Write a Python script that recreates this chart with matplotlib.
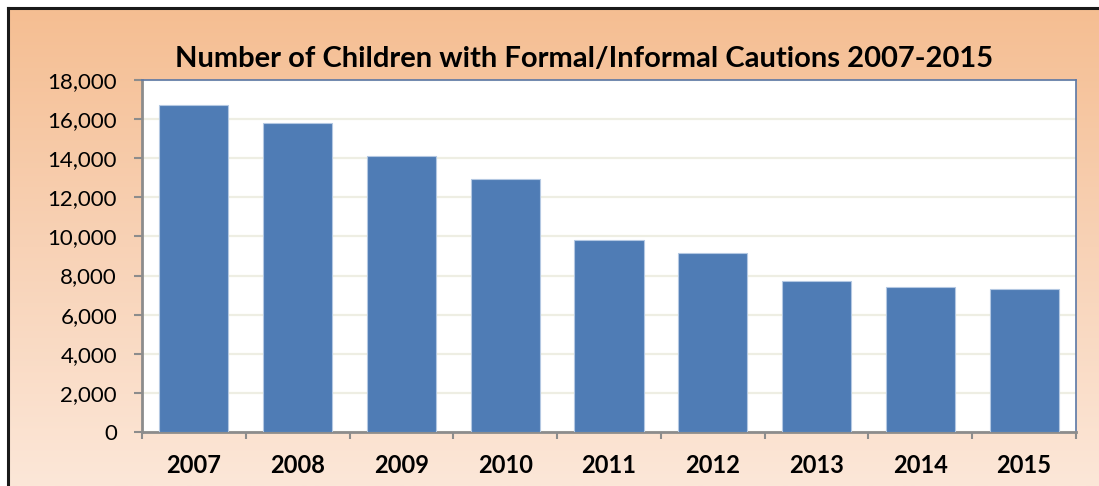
import numpy as np
import matplotlib
matplotlib.use("Agg")
import matplotlib.pyplot as plt
from matplotlib.colors import LinearSegmentedColormap
from matplotlib.ticker import FuncFormatter, FixedLocator

years = ["2007", "2008", "2009", "2010", "2011", "2012", "2013", "2014", "2015"]
cautions = [16730, 15810, 14100, 12950, 9800, 9170, 7730, 7440, 7330]
y_ticks = list(range(0, 18001, 2000))

plt.rcParams["font.family"] = ["Lato", "DejaVu Sans"]

W, H = 1099, 486
fig = plt.figure(figsize=(W / 100, H / 100), dpi=100, facecolor="white")

# peach gradient panel behind the chart, with a dark frame on top and left
bg = fig.add_axes([9 / W, 0, 1 - 9 / W, 1 - 9 / H], zorder=0)
grad = np.linspace(0, 1, 256).reshape(-1, 1)
cmap = LinearSegmentedColormap.from_list("peach", ["#F5BE92", "#F8D2B6", "#FCE7D8"])
bg.imshow(grad, aspect="auto", cmap=cmap, extent=[0, 1, 0, 1], origin="upper")
bg.set_axis_off()
fig.add_artist(plt.Line2D([8 / W, 1], [1 - 8 / H, 1 - 8 / H], color="#1a1a1a", lw=2.2))
fig.add_artist(plt.Line2D([8 / W, 8 / W], [0, 1 - 8 / H], color="#1a1a1a", lw=2.2))

ax = fig.add_axes([142 / W, 54 / H, (1076 - 142) / W, (432 - 80) / H], zorder=1)
ax.set_facecolor("white")

x = np.arange(len(years))
ax.bar(x, cautions, width=0.665, color="#4F7CB5", edgecolor="#B4C8E2", linewidth=0.8, zorder=3)

ax.set_xlim(-0.5, len(years) - 0.5)
ax.set_ylim(0, 18000)
ax.set_yticks(y_ticks)
ax.yaxis.set_major_formatter(FuncFormatter(lambda v, p: f"{int(v):,}"))
ax.grid(axis="y", color="#EEEEE3", lw=1.6, zorder=0)

# x ticks sit between categories, labels sit under the bars
ax.xaxis.set_major_locator(FixedLocator(np.arange(-0.5, len(years), 1.0)))
ax.set_xticklabels([], minor=False)
ax.set_xticks(x, minor=True)
ax.set_xticklabels(years, minor=True, fontsize=17, fontweight="bold")
ax.tick_params(axis="x", which="major", length=5, width=1.5, color="#8C8C8C", direction="out")
ax.tick_params(axis="x", which="minor", length=0, pad=16)
ax.tick_params(axis="y", length=6, width=1.5, color="#8C8C8C", labelsize=16, pad=12)

for side in ["left", "bottom"]:
    ax.spines[side].set_color("#8C8C8C")
    ax.spines[side].set_linewidth(2)
for side in ["top", "right"]:
    ax.spines[side].set_color("#5B78A6")
    ax.spines[side].set_linewidth(1.2)

fig.text(584 / W, 1 - 67 / H, "Number of Children with Formal/Informal Cautions 2007-2015",
         ha="center", va="baseline", fontsize=21, fontweight="bold")

fig.savefig("out.png", dpi=100)
